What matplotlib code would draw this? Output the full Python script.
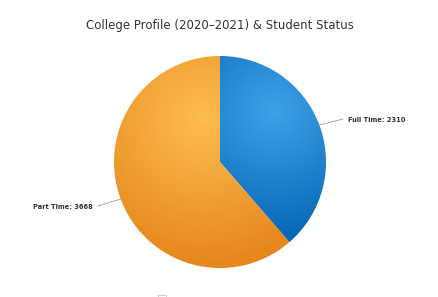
import matplotlib.pyplot as plt
import matplotlib.colors as mcolors
import matplotlib.patches as mpatches
import numpy as np

# data
labels = ["Full Time", "Part Time"]
values = [2310, 3668]
light = ["#3fa2e8", "#fdbd50"]
dark = ["#0565b5", "#e6861c"]

fig = plt.figure(figsize=(4.39, 2.97), dpi=100)
ax = fig.add_axes([0, 0, 1, 1])
ax.set_xlim(0, 439)
ax.set_ylim(0, 297)
ax.set_aspect("equal")
ax.axis("off")

cx, cy, r = 220, 135, 106
wedges, _ = ax.pie(values, center=(cx, cy), radius=r, startangle=90,
                   counterclock=False, colors=light,
                   wedgeprops=dict(linewidth=1, edgecolor="white"))

# radial gradient fill per slice
yy, xx = np.mgrid[0:297, 0:439]
for w, c1, c2 in zip(wedges, light, dark):
    bb = w.get_path().get_extents(w.get_patch_transform())
    gx = bb.x0 + 0.5 * bb.width
    gy = bb.y1 - 0.3 * bb.height
    gr = 0.7 * max(bb.width, bb.height)
    t = np.clip(np.hypot(xx - gx, yy - gy) / gr, 0, 1)
    cmap = mcolors.LinearSegmentedColormap.from_list("g", [c1, c2])
    im = ax.imshow(t, cmap=cmap, origin="lower", extent=(0, 439, 0, 297),
                   vmin=0, vmax=1, zorder=w.get_zorder() + 0.1)
    im.set_clip_path(w)

ax.set_xlim(0, 439)
ax.set_ylim(0, 297)

# data labels with connectors
total = sum(values)
start = 90
label_pos = [(348, 177, "left", 343), (93, 90, "right", 98)]
for lab, v, (lx, ly, ha, px) in zip(labels, values, label_pos):
    frac = v / total
    mid = np.deg2rad(start - frac * 360 / 2)
    start -= frac * 360
    ex, ey = cx + r * np.cos(mid), cy + r * np.sin(mid)
    ax.plot([ex, px], [ey, ly + 1], color="#999999", lw=0.6, zorder=5)
    ax.text(lx, ly, f"{lab}: {v}", ha=ha, va="center", fontsize=4.8,
            fontweight="bold", color="#333333", zorder=6)

# clipped legend symbol at the bottom edge
ax.add_patch(mpatches.Rectangle((158, -2), 8, 4.5, facecolor="white",
                                edgecolor="#cccccc", lw=0.8, clip_on=False))

fig.text(0.5, 1 - 25 / 297, "College Profile (2020\u20132021) & Student Status",
         ha="center", va="center", fontsize=8.5, color="#333333")

fig.savefig("out.png", dpi=100)
